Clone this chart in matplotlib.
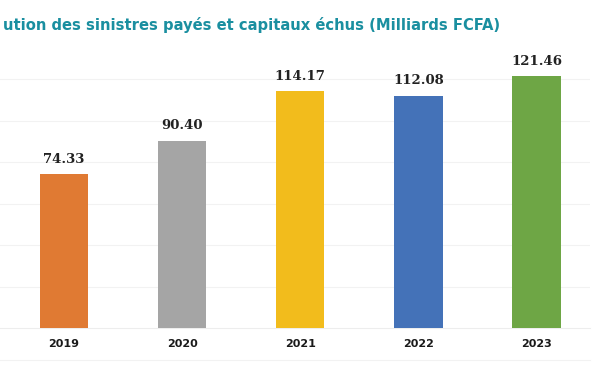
import matplotlib.pyplot as plt

years = ['2019', '2020', '2021', '2022', '2023']
values = [74.33, 90.40, 114.17, 112.08, 121.46]
colors = ['#E07A33', '#A5A5A5', '#F2BC1C', '#4472B8', '#6EA645']

fig = plt.figure(figsize=(6, 3.72), dpi=100)
ax = fig.add_axes([0, 0.118, 0.983, 0.78])

x = range(len(years))
bars = ax.bar(x, values, width=0.41, color=colors, zorder=3)

for b, v in zip(bars, values):
    ax.annotate(f'{v:.2f}', (b.get_x() + b.get_width() / 2, v),
                xytext=(0, 6), textcoords='offset points',
                ha='center', va='bottom', fontsize=9.5, fontweight='bold',
                family='DejaVu Serif', color='#222222')

ax.set_xlim(-0.54, 4.45)
ax.set_ylim(0, 140)
ax.set_yticks([20, 40, 60, 80, 100, 120])
ax.yaxis.grid(True, color='#F2F2F2', linewidth=0.8, zorder=0)
ax.tick_params(axis='y', length=0, labelleft=False)
ax.set_xticks(list(x))
ax.set_xticklabels(years, fontsize=8, fontweight='bold', color='#1A1A1A')
ax.tick_params(axis='x', length=0, pad=8)

for s in ['top', 'left', 'right']:
    ax.spines[s].set_visible(False)
ax.spines['bottom'].set_color('#EDEDED')

fig.text(3 / 600, 1 - 30 / 372,
         'ution des sinistres payés et capitaux échus (Milliards FCFA)',
         ha='left', va='baseline', fontsize=11.8, color='#1A8FA0',
         family='DejaVu Sans', fontstretch='condensed', fontweight='bold')

fig.lines.append(plt.Line2D([0, 0.983], [1 - 360 / 372] * 2,
                            transform=fig.transFigure, color='#F2F2F2', lw=0.8))

fig.savefig('out.png', dpi=100)
